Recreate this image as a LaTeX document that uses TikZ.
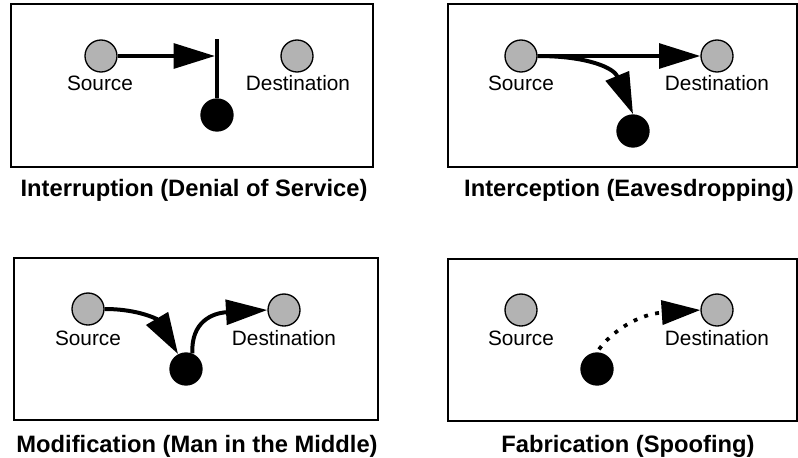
\documentclass[tikz,border=0pt]{standalone}
\usepackage{fontspec}
\setmainfont{Liberation Sans}
\usetikzlibrary{arrows.meta}
\definecolor{nodegray}{RGB}{179,179,179}
\tikzset{
  panel/.style={draw=black, line width=1.1pt},
  party/.style={circle, draw=black, line width=1pt, fill=nodegray, minimum size=24pt, inner sep=0pt},
  attacker/.style={circle, fill=black, minimum size=25pt, inner sep=0pt},
  lbl/.style={font=\fontsize{15.6}{18}\selectfont, inner sep=0pt},
  ttl/.style={font=\fontsize{17.8}{21}\selectfont\bfseries, inner sep=0pt},
  flow/.style={line width=3pt, -{Triangle[length=31pt,width=18.5pt]}},
  plain/.style={line width=3pt},
  fake/.style={line width=2.8pt, dash pattern=on 3pt off 5.5pt, dash phase=6pt, -{Triangle[length=29pt,width=18pt]}}
}
\begin{document}
\begin{tikzpicture}[x=0.75pt,y=-0.75pt]
\useasboundingbox (0,0) rectangle (798,457);
\fill[white] (0,0) rectangle (798,457);

% ---------- Panel 1: Interruption ----------
\draw[panel] (11,4) rectangle (373,167);
\node[party] (src1) at (101,56) {};
\node[party] (dst1) at (297,56) {};
\node[attacker] (blk1) at (217,115) {};
\node[lbl] (ls1) at (100,83) {Source};
\node[lbl] (ld1) at (298,83) {Destination};
\coordinate (bar1) at (217,39);
\coordinate (tip1) at (215,56);
\draw[plain] (bar1) -- (blk1.north);
\draw[flow] (src1.east) -- (tip1);
\node[ttl] (t1) at (194,190) {Interruption (Denial of Service)};

% ---------- Panel 2: Interception ----------
\draw[panel] (448,4) rectangle (797,167);
\node[party] (src2) at (521,56) {};
\node[party] (dst2) at (717,56) {};
\node[attacker] (blk2) at (633,131) {};
\node[lbl] (ls2) at (521,83) {Source};
\node[lbl] (ld2) at (717,83) {Destination};
\draw[flow] (src2.east) -- (dst2.west);
\draw[flow] (src2.east) .. controls (588,56) and (614,68) .. (blk2.north);
\node[ttl] (t2) at (629,190) {Interception (Eavesdropping)};

% ---------- Panel 3: Modification ----------
\draw[panel] (14,258) rectangle (378,420);
\node[party] (src3) at (88,309) {};
\node[party] (dst3) at (284,310) {};
\node[attacker] (blk3) at (186,369) {};
\node[lbl] (ls3) at (88,338) {Source};
\node[lbl] (ld3) at (284,338) {Destination};
\draw[flow] (src3.east) .. controls (140,309) and (158,320) .. (blk3.118);
\draw[flow] (blk3.68) .. controls (191,322) and (212,313) .. (dst3.west);
\node[ttl] (t3) at (197,446) {Modification (Man in the Middle)};

% ---------- Panel 4: Fabrication ----------
\draw[panel] (448,259) rectangle (797,421);
\node[party] (src4) at (521,310) {};
\node[party] (dst4) at (717,310) {};
\node[attacker] (blk4) at (597,369) {};
\node[lbl] (ls4) at (521,338) {Source};
\node[lbl] (ld4) at (717,338) {Destination};
\draw[fake] (blk4.north) .. controls (612,330) and (640,314) .. (dst4.west);
\node[ttl] (t4) at (628,446) {Fabrication (Spoofing)};
\end{tikzpicture}
\end{document}
